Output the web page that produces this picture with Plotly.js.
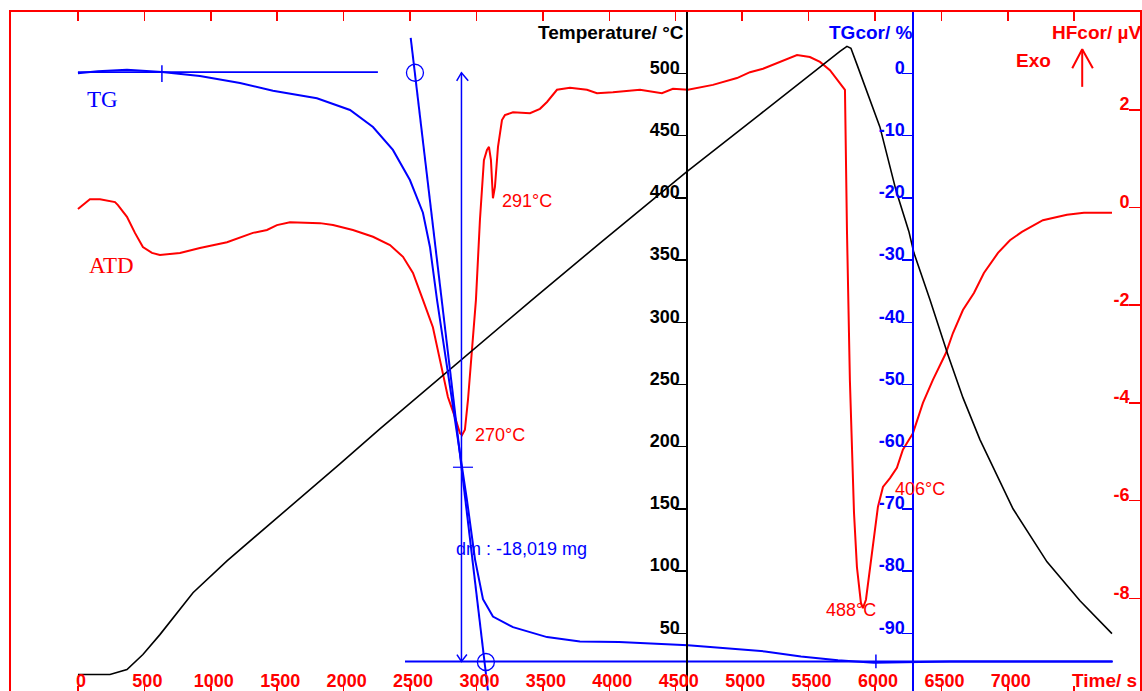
<!DOCTYPE html>
<html>
<head>
<meta charset="utf-8">
<script src="https://cdn.plot.ly/plotly-3.0.1.min.js"></script>
<style>
  html, body { margin: 0; padding: 0; background: #ffffff; overflow: hidden; }
  #chart { width: 1142px; height: 691px; }
</style>
</head>
<body>
<div id="chart"></div>
<script>
// ---------- tick labels ----------
const timeTicks = [0, 500, 1000, 1500, 2000, 2500, 3000, 3500, 4000, 4500, 5000, 5500, 6000, 6500, 7000, 7500];
const timeTickText = ["0", "500", "1000", "1500", "2000", "2500", "3000", "3500", "4000", "4500", "5000", "5500", "6000", "6500", "7000", ""];
const tempTicks = [50, 100, 150, 200, 250, 300, 350, 400, 450, 500];
const tempTickText = ["50", "100", "150", "200", "250", "300", "350", "400", "450", "500"];
const tgTicks = [0, -10, -20, -30, -40, -50, -60, -70, -80, -90];
const tgTickText = ["0", "-10", "-20", "-30", "-40", "-50", "-60", "-70", "-80", "-90"];
const hfTicks = [2, 0, -2, -4, -6, -8];
const hfTickText = ["2", "0", "-2", "-4", "-6", "-8"];

// ---------- Temperature (°C) vs time (s) ----------
const tempTime = [0, 241, 369, 489, 617, 866, 1122, 1370, 1671, 1972, 2273, 2575, 2891, 3425, 3930, 4577, 5134, 5586, 5736, 5789, 5819, 5864, 5932, 6037, 6158, 6255, 6293, 6414, 6549, 6662, 6790, 7039, 7295, 7543, 7784];
const tempValue = [16.9, 16.9, 20.9, 33.0, 49.0, 82.7, 108.3, 130.8, 158.9, 186.2, 214.3, 241.6, 270.5, 318.6, 363.6, 420.5, 467.1, 505.6, 517.7, 521.7, 520.1, 507.2, 488.0, 457.0, 406.0, 373.0, 355.8, 318.1, 273.9, 239.4, 205.7, 150.1, 107.5, 76.2, 49.8];

// ---------- ATD / HFcor (µV) vs time (s) ----------
const atdTime = [0, 90, 166, 279, 301, 369, 429, 489, 557, 617, 768, 918, 1122, 1317, 1423, 1498, 1596, 1822, 1920, 2070, 2221, 2349, 2447, 2522, 2597, 2672, 2725, 2785, 2838, 2876, 2891, 2913, 2936, 2966, 2996, 3026, 3056, 3079, 3094, 3109, 3124, 3139, 3162, 3192, 3214, 3275, 3403, 3478, 3531, 3606, 3704, 3832, 3907, 4027, 4231, 4396, 4479, 4592, 4780, 4961, 5059, 5157, 5285, 5413, 5510, 5586, 5661, 5736, 5774, 5789, 5811, 5842, 5864, 5894, 5909, 5932, 5962, 6000, 6022, 6060, 6113, 6165, 6210, 6286, 6361, 6436, 6534, 6587, 6662, 6745, 6820, 6926, 7016, 7106, 7264, 7445, 7573, 7784];
const atdValue = [-0.03, 0.17, 0.17, 0.11, 0.05, -0.19, -0.52, -0.81, -0.93, -0.97, -0.93, -0.83, -0.71, -0.52, -0.46, -0.36, -0.30, -0.32, -0.36, -0.46, -0.60, -0.77, -1.01, -1.34, -1.89, -2.45, -3.12, -3.88, -4.29, -4.62, -4.66, -4.55, -3.94, -2.92, -1.89, -0.26, 0.97, 1.18, 1.24, 0.97, 0.19, 0.42, 1.24, 1.79, 1.89, 1.95, 1.93, 2.02, 2.16, 2.41, 2.45, 2.41, 2.34, 2.36, 2.41, 2.34, 2.43, 2.41, 2.51, 2.65, 2.77, 2.84, 2.98, 3.12, 3.08, 2.98, 2.81, 2.55, 2.41, -0.46, -3.53, -6.25, -7.36, -8.09, -8.20, -8.03, -7.36, -6.54, -6.13, -5.72, -5.54, -5.33, -4.96, -4.62, -4.00, -3.53, -2.98, -2.57, -2.10, -1.75, -1.34, -0.93, -0.67, -0.50, -0.26, -0.15, -0.11, -0.11];

// ---------- TG cor (%) vs time (s) ----------
const tgTime = [0, 150, 369, 632, 918, 1220, 1468, 1799, 2048, 2221, 2371, 2499, 2597, 2650, 2703, 2778, 2838, 2887, 2928, 2989, 3049, 3124, 3275, 3531, 3779, 4073, 4592, 5172, 5443, 5721, 5992, 6564, 7784];
const tgValue = [0, 0.35, 0.58, 0.21, -0.43, -1.56, -2.79, -4.01, -5.89, -8.62, -12.31, -17.14, -22.4, -27.9, -36.4, -47.1, -55.7, -63.3, -68.5, -78.1, -84.5, -87.3, -89.0, -90.6, -91.3, -91.4, -91.9, -92.9, -93.7, -94.3, -94.7, -94.5, -94.5];

// ---------- TG evaluation marks (time s, TG %) ----------
const onsetLineTime = [0, 2258];
const onsetLineValue = [0.2, 0.2];
const startCrossTime = [632, 632];
const startCrossValue = [1.3, -1.4];
const tangentTime = [2505, 3086];
const tangentValue = [5.7, -99.15];
const circleTime = [2537, 3071];
const circleValue = [0.1, -94.6];
const stepArrowTime = [2851, 2887, 2938, null, 2887, 2887, null, 2853, 2887, 2928];
const stepArrowValue = [-1.2, 0.1, -1.2, null, 0.1, -94.5, null, -93.4, -94.5, -93.4];
const midCrossTime = [2823, 2974];
const midCrossValue = [-63.3, -63.3];
const endLineTime = [2462, 7791];
const endLineValue = [-94.5, -94.5];
const endCrossTime = [6007, 6007];
const endCrossValue = [-93.4, -95.6];

// ---------- Exo arrow (time s, µV) ----------
const exoArrowTime = [7560, 7560, null, 7485, 7560, 7640];
const exoArrowValue = [2.47, 3.24, null, 2.85, 3.24, 2.85];

// ---------- text labels ----------
const peakLabels = ["291°C", "270°C", "406°C", "488°C"];
const peakLabelTime = [3380, 3177, 6338, 5819];
const peakLabelValue = [0.13, -4.66, -5.76, -8.24];

const RED = "#ff0000", BLUE = "#0000ff", BLACK = "#000000";
const SANS = "Liberation Sans, Arial, sans-serif";
const SERIF = "Liberation Serif, Times New Roman, serif";

function seg(x, y, axis, color, width) {
  return { x: x, y: y, type: "scatter", mode: "lines", xaxis: "x", yaxis: axis,
           line: { color: color, width: width || 1.5 }, hoverinfo: "skip", showlegend: false, connectgaps: false };
}

const traces = [
  seg(tempTime, tempValue, "y2", BLACK, 1.6),
  seg(atdTime, atdValue, "y", RED, 2),
  seg(tgTime, tgValue, "y3", BLUE, 2),
  seg(onsetLineTime, onsetLineValue, "y3", BLUE, 1.8),
  seg(startCrossTime, startCrossValue, "y3", BLUE, 1.5),
  seg(tangentTime, tangentValue, "y3", BLUE, 2),
  seg(stepArrowTime, stepArrowValue, "y3", BLUE, 1.5),
  seg(midCrossTime, midCrossValue, "y3", BLUE, 1.2),
  seg(endLineTime, endLineValue, "y3", BLUE, 2),
  seg(endCrossTime, endCrossValue, "y3", BLUE, 1.5),
  seg(exoArrowTime, exoArrowValue, "y", RED, 2),
  { x: circleTime, y: circleValue, type: "scatter", mode: "markers", xaxis: "x", yaxis: "y3",
    marker: { symbol: "circle-open", size: 17, color: BLUE, line: { color: BLUE, width: 1.3 } },
    hoverinfo: "skip", showlegend: false },
  // carrier for the top (mirror) time axis
  { x: [timeTicks[0]], y: [hfTicks[0]], type: "scatter", mode: "markers", xaxis: "x2", yaxis: "y",
    marker: { opacity: 0 }, hoverinfo: "skip", showlegend: false }
];

const annotations = [];
for (let i = 0; i < peakLabels.length; i++) {
  annotations.push({ x: peakLabelTime[i], y: peakLabelValue[i], xref: "x", yref: "y",
    text: peakLabels[i], showarrow: false, xanchor: "center", yanchor: "middle",
    font: { family: SANS, size: 18, color: RED } });
}
annotations.push(
  { x: 3339, y: -76.5, xref: "x", yref: "y3", text: "dm : -18,019 mg", showarrow: false,
    xanchor: "center", yanchor: "middle", font: { family: SANS, size: 18, color: BLUE } },
  { x: 188, y: -4.2, xref: "x", yref: "y3", text: "TG", showarrow: false,
    xanchor: "center", yanchor: "middle", font: { family: SERIF, size: 23, color: BLUE } },
  { x: 256, y: -1.19, xref: "x", yref: "y", text: "ATD", showarrow: false,
    xanchor: "center", yanchor: "middle", font: { family: SERIF, size: 23, color: RED } },
  { x: 0.5979, y: 0.9698, xref: "paper", yref: "paper", text: "<b>Temperature/ °C</b>", showarrow: false,
    xanchor: "right", yanchor: "middle", font: { family: SANS, size: 19, color: BLACK } },
  { x: 0.8007, y: 0.9698, xref: "paper", yref: "paper", text: "<b>TGcor/ %</b>", showarrow: false,
    xanchor: "right", yanchor: "middle", font: { family: SANS, size: 19, color: BLUE } },
  { x: 0.9200, y: 0.9698, xref: "paper", yref: "paper", text: "<b>HFcor/ µV</b>", showarrow: false,
    xanchor: "left", yanchor: "middle", font: { family: SANS, size: 19, color: RED } },
  { x: 0.9058, y: 0.9293, xref: "paper", yref: "paper", text: "<b>Exo</b>", showarrow: false,
    xanchor: "center", yanchor: "middle", font: { family: SANS, size: 19, color: RED } },
  { x: 0.9380, y: 0.0162, xref: "paper", yref: "paper", text: "<b>Time/ s</b>", showarrow: false,
    xanchor: "left", yanchor: "middle", font: { family: SANS, size: 19, color: RED } }
);

const tickFont = (c) => ({ family: SANS, size: 18, color: c, weight: "bold" });

const layout = {
  width: 1142, height: 691,
  margin: { l: 11, r: 2, t: 12, b: 0, pad: 0 },
  paper_bgcolor: "#ffffff", plot_bgcolor: "rgba(0,0,0,0)",
  showlegend: false,
  xaxis: {
    range: [-504, 7995], anchor: "y", side: "bottom",
    tickmode: "array", tickvals: timeTicks, ticktext: timeTickText,
    ticks: "inside", ticklen: 5, tickwidth: 1.5, tickcolor: RED,
    ticklabelposition: "inside", ticklabelshift: 3, ticklabelstandoff: -4, tickfont: tickFont(RED),
    showline: true, linecolor: RED, linewidth: 2,
    showgrid: false, zeroline: false, fixedrange: true
  },
  xaxis2: {
    range: [-504, 7995], overlaying: "x", anchor: "y", side: "top",
    tickmode: "array", tickvals: timeTicks, showticklabels: false,
    ticks: "inside", ticklen: 9, tickwidth: 1.5, tickcolor: RED,
    showline: true, linecolor: RED, linewidth: 2,
    showgrid: false, zeroline: false, fixedrange: true
  },
  yaxis: {
    range: [-9.898, 4.002], anchor: "x", side: "right",
    tickmode: "array", tickvals: hfTicks, ticktext: hfTickText,
    ticks: "inside", ticklen: 11, tickwidth: 1.5, tickcolor: RED,
    ticklabelposition: "inside", ticklabelshift: -6, tickfont: tickFont(RED),
    showline: true, linecolor: RED, linewidth: 2, mirror: true,
    showgrid: false, zeroline: false, fixedrange: true
  },
  yaxis2: {
    range: [3.7, 549.3], overlaying: "y", anchor: "free", position: 0.5992, side: "left",
    tickmode: "array", tickvals: tempTicks, ticktext: tempTickText,
    ticks: "outside", ticklen: 11, tickwidth: 1.5, tickcolor: BLACK,
    ticklabelshift: -6, ticklabelstandoff: -8, tickfont: tickFont(BLACK),
    showline: true, linecolor: BLACK, linewidth: 2,
    showgrid: false, zeroline: false, fixedrange: true
  },
  yaxis3: {
    range: [-99.26, 9.86], overlaying: "y", anchor: "free", position: 0.7992, side: "left",
    tickmode: "array", tickvals: tgTicks, ticktext: tgTickText,
    ticks: "outside", ticklen: 10, tickwidth: 1.5, tickcolor: BLUE,
    ticklabelshift: -6, ticklabelstandoff: -6, tickfont: tickFont(BLUE),
    showline: true, linecolor: BLUE, linewidth: 2,
    showgrid: false, zeroline: false, fixedrange: true
  },
  annotations: annotations
};

Plotly.newPlot("chart", traces, layout, { staticPlot: true, displayModeBar: false });
</script>
</body>
</html>
